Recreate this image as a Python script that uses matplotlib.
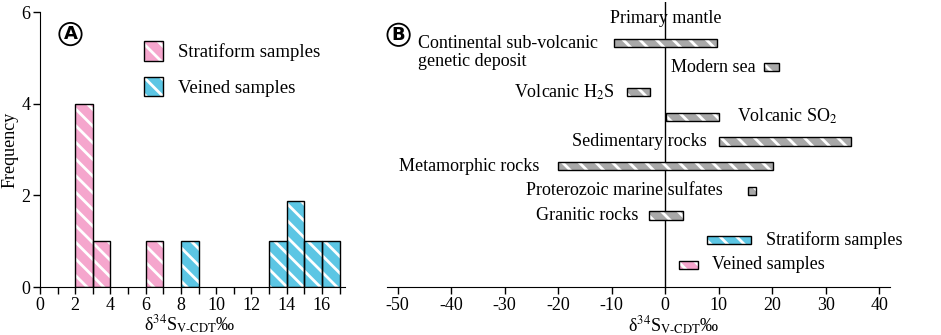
import matplotlib
matplotlib.use('Agg')
import matplotlib.pyplot as plt
from matplotlib.patches import Patch
from matplotlib.ticker import MultipleLocator

plt.rcParams['font.family'] = ['Liberation Serif', 'DejaVu Serif']
plt.rcParams['mathtext.fontset'] = 'stix'
plt.rcParams['axes.unicode_minus'] = False
plt.rcParams['hatch.linewidth'] = 2.0
plt.rcParams['hatch.color'] = 'white'

# --- panel A: histogram counts (bin left edges, width 1) ---
strat_bins = [2, 3, 6]
strat_freq = [4, 1, 1]
vein_bins = [8, 13, 14, 15, 16]
vein_freq = [1, 1, 1.87, 1, 1]

# --- panel B: sulfur isotope ranges of reservoirs ---
res_names = ['Primary mantle', 'Continental sub-volcanic\ngenetic deposit', 'Modern sea',
             'Volcanic H$_2$S', 'Volcanic SO$_2$', 'Sedimentary rocks', 'Metamorphic rocks',
             'Proterozoic marine sulfates', 'Granitic rocks', 'Stratiform samples',
             'Veined samples']
res_low = [0, -9.6, 18.4, -7.1, 0.2, 10.0, -20.1, 15.4, -3.0, 7.8, 2.5]
res_high = [0, 9.6, 21.2, -2.9, 10.1, 34.8, 20.2, 17.0, 3.3, 16.0, 6.1]

PINK = '#F5A6CD'
BLUE = '#5CC6E4'
GRAY = '#A8A8A8'
XLAB = r'δ$^{34}$S$_{\mathrm{V\text{-}CDT}}$‰'


def hatched_bars(ax, x, h, color, horizontal=False, **kw):
    # fill + white stripes first, black outline on top
    if horizontal:
        ax.barh(x, h, color=color, edgecolor='white', hatch='\\\\', linewidth=0, **kw)
        ax.barh(x, h, fill=False, edgecolor='black', linewidth=1, **kw)
    else:
        ax.bar(x, h, color=color, edgecolor='white', hatch='\\\\', linewidth=0, **kw)
        ax.bar(x, h, fill=False, edgecolor='black', linewidth=1, **kw)


def legend_handle(color):
    return (Patch(facecolor=color, edgecolor='white', hatch='\\\\', linewidth=0),
            Patch(fill=False, edgecolor='black', linewidth=1))


fig = plt.figure(figsize=(9.41, 3.35), dpi=100)
axA = fig.add_axes([0.0425, 0.143, 0.324, 0.821])
axB = fig.add_axes([0.4113, 0.143, 0.5345, 0.851])

# ---------------- A ----------------
hatched_bars(axA, strat_bins, strat_freq, PINK, width=1, align='edge')
hatched_bars(axA, vein_bins, vein_freq, BLUE, width=1, align='edge')
axA.set_xlim(0, 17.3)
axA.set_ylim(0, 6)
axA.xaxis.set_major_locator(MultipleLocator(2))
axA.xaxis.set_minor_locator(MultipleLocator(1))
axA.yaxis.set_major_locator(MultipleLocator(2))
axA.spines[['top', 'right']].set_visible(False)
axA.tick_params(labelsize=13, length=5, width=1, pad=2)
axA.tick_params(which='minor', length=5, width=1)
axA.set_xlabel(XLAB, fontsize=13)
axA.xaxis.set_label_coords(0.49, -0.095)
axA.set_ylabel('Frequency', fontsize=13)
axA.yaxis.set_label_coords(-0.072, 0.5)

axA.legend([legend_handle(PINK), legend_handle(BLUE)], ['Stratiform samples', 'Veined samples'],
           loc='upper left', bbox_to_anchor=(0.285, 0.955), frameon=False,
           fontsize=13.5, handlelength=1.0, handleheight=1.2, labelspacing=0.85, handletextpad=0.85)
axA.text(0.1, 0.92, 'A', transform=axA.transAxes, fontsize=13, fontweight='bold',
         family='DejaVu Sans', ha='center', va='center',
         bbox=dict(boxstyle='circle,pad=0.12', fc='white', ec='black', lw=1.3))

# ---------------- B ----------------
rows = list(range(len(res_names)))
colors = [GRAY] * 9 + [BLUE, PINK]
for i in rows[1:]:
    hatched_bars(axB, [i], [res_high[i] - res_low[i]], colors[i], horizontal=True,
                 left=[res_low[i]], height=0.33)
axB.axvline(0, color='black', lw=1, zorder=0.5)

# label anchors (x, ha) for each row
lab_pos = [(0, 'center'), (-12.5, 'right'), (16.8, 'right'), (-9.5, 'right'), (13.4, 'left'),
           (7.8, 'right'), (-23.5, 'right'), (10.8, 'right'), (-5.0, 'right'), (18.8, 'left'),
           (8.8, 'left')]
for i, (name, (lx, ha)) in enumerate(zip(res_names, lab_pos)):
    ly = i + 0.4 if '\n' in name else i
    axB.text(lx, ly, name, ha=ha, va='center', fontsize=13, multialignment='left',
             linespacing=1.05, clip_on=False)

axB.set_xlim(-52, 42)
axB.set_ylim(10.9, -0.65)
axB.xaxis.set_major_locator(MultipleLocator(10))
axB.set_yticks([])
axB.spines[['top', 'right', 'left']].set_visible(False)
axB.tick_params(labelsize=13, length=5, width=1, pad=2)
axB.set_xlabel(XLAB, fontsize=13)
axB.xaxis.set_label_coords(0.57, -0.095)
axB.text(0.023, 0.885, 'B', transform=axB.transAxes, fontsize=13, fontweight='bold',
         family='DejaVu Sans', ha='center', va='center',
         bbox=dict(boxstyle='circle,pad=0.12', fc='white', ec='black', lw=1.3))

fig.savefig('out.png', dpi=100)
